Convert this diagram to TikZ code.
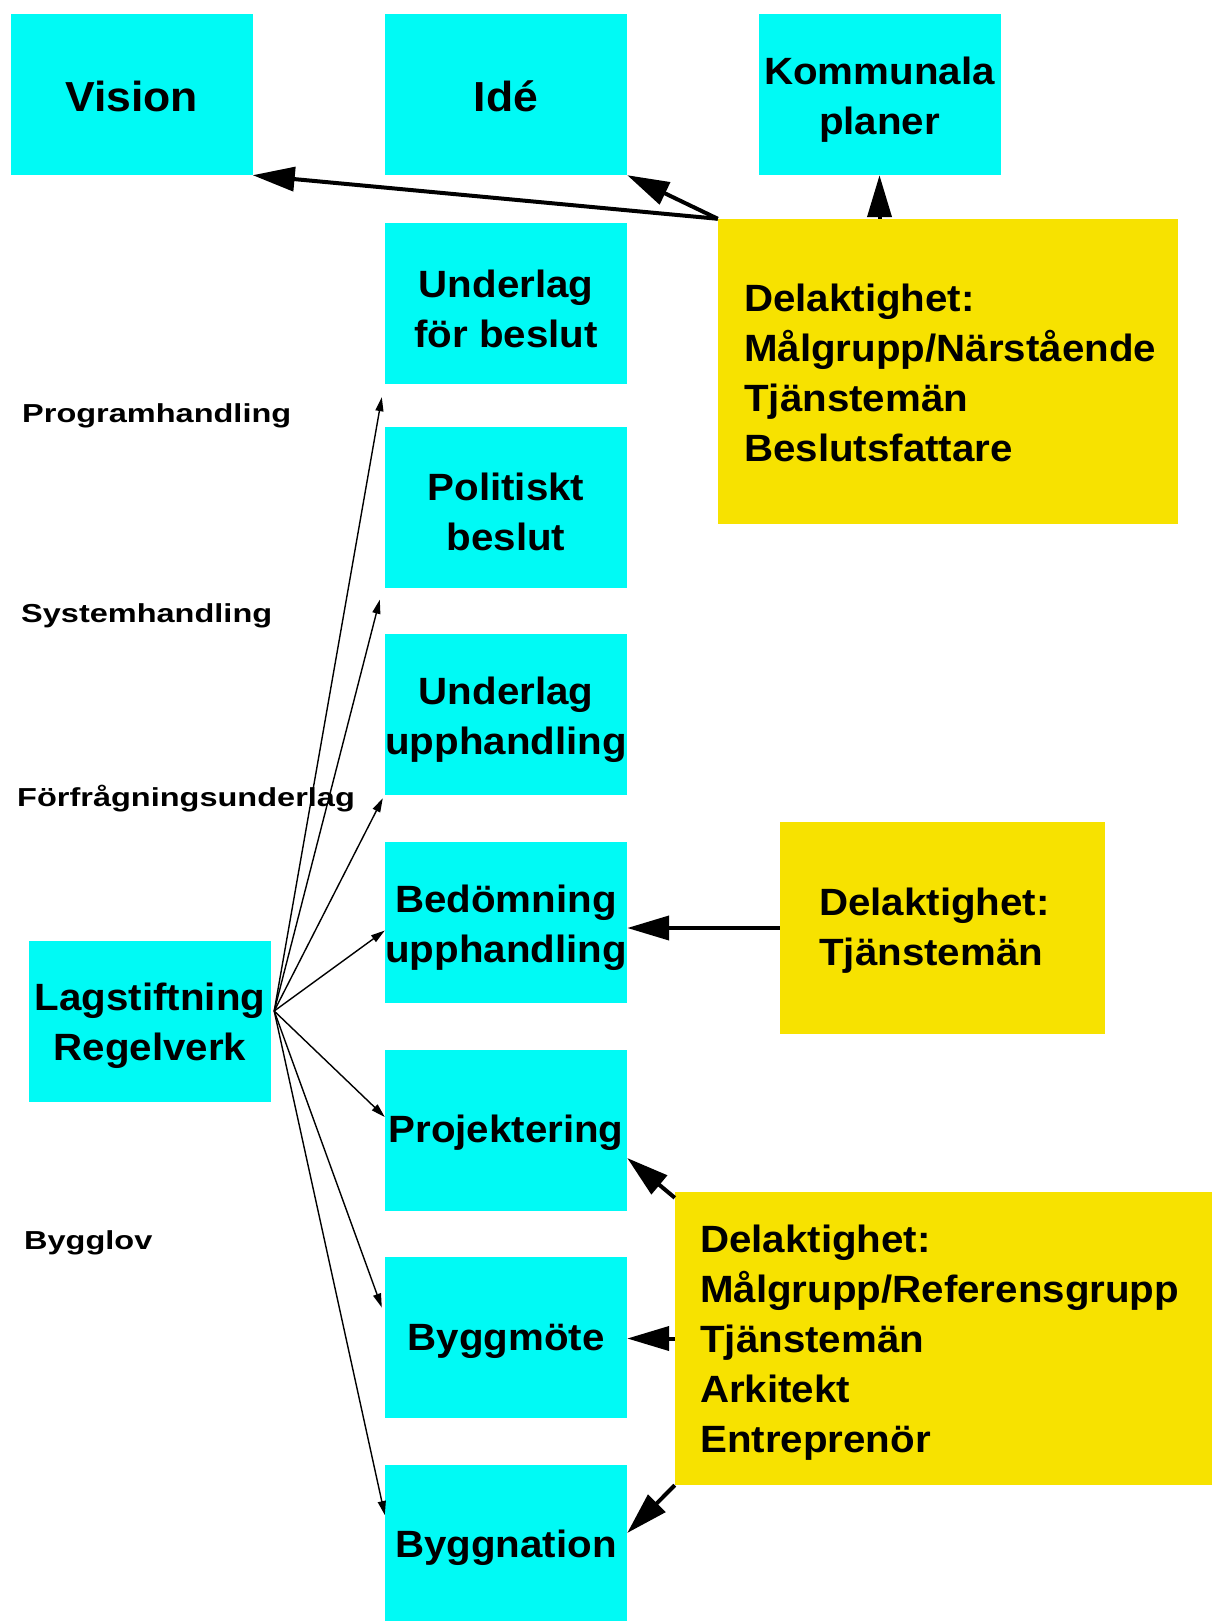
\documentclass[tikz,border=0pt]{standalone}
\usepackage{fontspec}
\setmainfont{Liberation Sans}[FakeStretch=1.06]
\newfontfamily\sidofont{Liberation Sans}[FakeStretch=1.25]
\usetikzlibrary{arrows.meta,calc}
\definecolor{turkos}{RGB}{0,250,245}
\definecolor{gul}{RGB}{247,226,0}

\begin{document}
\begin{tikzpicture}[x=1pt,y=-1pt,
    ruta/.style={fill=turkos, minimum width=242pt, minimum height=161pt, align=center, inner sep=0pt, text height=34pt, font=\bfseries\fontsize{38}{50}\selectfont},
    tvaruta/.style={ruta, text height=88pt},
    storruta/.style={ruta, font=\bfseries\fontsize{42}{50}\selectfont},
    gulruta/.style={fill=gul, inner sep=0pt},
    gultext/.style={anchor=west, align=left, inner sep=0pt, font=\bfseries\fontsize{38}{50}\selectfont},
    etikett/.style={anchor=base west, inner sep=0pt, font=\sidofont\bfseries\fontsize{26}{30}\selectfont},
    pil/.style={line width=4pt, -{Triangle[length=42pt,width=24pt]}},
    tunnpil/.style={line width=1.4pt, -{Triangle[length=14pt,width=8pt]}}]
    \useasboundingbox (0,0) rectangle (1211,1621);
    % oeversta raden:
    \node[storruta] (vision) at (131.5,94.5) {Vision};
    \node[storruta] (ide) at (506,94.5) {Idé};
    \node[tvaruta] (komm) at (879.5,94.5) {Kommunala\\planer};
    % mittkolumnen:
    \node[tvaruta] (undbeslut) at (506,303.5) {Underlag\\för beslut};
    \node[tvaruta] (politiskt) at (506,507) {Politiskt\\beslut};
    \node[tvaruta] (undupph) at (506,714.5) {Underlag\\upphandling};
    \node[tvaruta] (bedom) at (506,922.5) {Bedömning\\upphandling};
    \node[ruta] (proj) at (506,1130) {Projektering};
    \node[ruta] (byggmote) at (506,1337.5) {Byggmöte};
    \node[ruta] (byggnation) at (506,1545) {Byggnation};
    \node[tvaruta] (lag) at (150,1021) {Lagstiftning\\Regelverk};
    % etiketter till vaenster:
    \node[etikett] (program) at (22,422) {Programhandling};
    \node[etikett] (system) at (21,622) {Systemhandling};
    \node[etikett] (forfr) at (17,806) {Förfrågningsunderlag};
    \node[etikett] (bygglov) at (24,1249) {Bygglov};
    % gula rutor:
    \node[gulruta, minimum width=460pt, minimum height=305pt] (delA) at (948,371.5) {};
    \node[gultext] (delAtext) at (744,373) {Delaktighet:\\Målgrupp/Närstående\\Tjänstemän\\Beslutsfattare};
    \node[gulruta, minimum width=325pt, minimum height=212pt] (delB) at (942.5,928) {};
    \node[gultext] (delBtext) at (819,931) {Delaktighet:\\Tjänstemän};
    \node[gulruta, minimum width=560pt, minimum height=293pt] (delC) at (955,1338.5) {};
    \node[gultext] (delCtext) at (700,1342.5) {Delaktighet:\\Målgrupp/Referensgrupp\\Tjänstemän\\Arkitekt\\Entreprenör};
    % tjocka pilar:
    \draw[pil] (delA.north west) -- (vision.south east);
    \draw[pil] (delA.north west) -- (ide.south east);
    \draw[pil] (komm.south |- delA.north) -- (komm.south);
    \draw[pil] (delB.west) -- (delB.west -| bedom.east);
    \draw[pil] ($(delC.north west)+(0,6)$) -- ($(proj.east)+(0,28)$);
    \draw[pil] (delC.west) -- (delC.west -| byggmote.east);
    \draw[pil] (delC.south west) -- ($(byggnation.east)+(0,-12)$);
    % tunna pilar fraan lagstiftning:
    \coordinate (lagut) at ($(lag.east)+(3,-10)$);
    \draw[tunnpil] (lagut) -- ($(undbeslut.south west)+(-3,13)$);
    \draw[tunnpil] (lagut) -- ($(politiskt.south west)+(-5,12)$);
    \draw[tunnpil] (lagut) -- ($(undupph.south west)+(-2,3)$);
    \draw[tunnpil] (lagut) -- ($(bedom.west)+(0,8)$);
    \draw[tunnpil] (lagut) -- ($(proj.west)+(0,-13)$);
    \draw[tunnpil] (lagut) -- ($(byggmote.west)+(-3,-30)$);
    \draw[tunnpil] (lagut) -- ($(byggnation.west)+(0,-30)$);
\end{tikzpicture}
\end{document}
